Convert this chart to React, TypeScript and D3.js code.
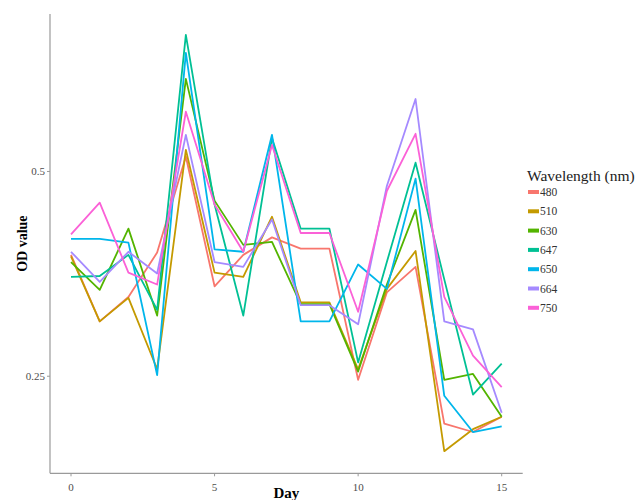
import React from "react";
import * as d3 from "d3";

// days on the x axis
const days = d3.range(0, 16);

// wavelength groups (legend order)
const wavelengths = ["480", "510", "630", "647", "650", "664", "750"];
const colours = ["#F8766D", "#C49A00", "#53B400", "#00C094", "#00B6EB", "#A58AFF", "#FB61D7"];

// OD values per wavelength, day 0..15
const od480 = [0.377, 0.301, 0.327, 0.38, 0.526, 0.339, 0.377, 0.4, 0.385, 0.385, 0.247, 0.332, 0.362, 0.213, 0.207, 0.218];
const od510 = [0.375, 0.301, 0.326, 0.256, 0.538, 0.355, 0.35, 0.429, 0.321, 0.321, 0.256, 0.336, 0.382, 0.194, 0.209, 0.218];
const od630 = [0.368, 0.335, 0.412, 0.307, 0.684, 0.453, 0.39, 0.394, 0.319, 0.319, 0.254, 0.341, 0.439, 0.247, 0.252, 0.218];
const od647 = [0.35, 0.351, 0.377, 0.313, 0.794, 0.447, 0.307, 0.56, 0.412, 0.412, 0.262, 0.368, 0.515, 0.347, 0.235, 0.261];
const od650 = [0.398, 0.398, 0.393, 0.251, 0.747, 0.384, 0.381, 0.566, 0.301, 0.301, 0.365, 0.336, 0.488, 0.234, 0.207, 0.211];
const od664 = [0.381, 0.344, 0.381, 0.354, 0.566, 0.368, 0.362, 0.425, 0.318, 0.318, 0.298, 0.476, 0.639, 0.301, 0.293, 0.221];
const od750 = [0.404, 0.45, 0.355, 0.341, 0.612, 0.447, 0.381, 0.547, 0.406, 0.406, 0.311, 0.468, 0.568, 0.327, 0.268, 0.241];

const seriesValues = [od480, od510, od630, od647, od650, od664, od750];

const xTicks = [0, 5, 10, 15];
const yTicks = [0.25, 0.5];

const App = () => {
    const layout = { width: 636, height: 500, left: 50, right: 522.7, top: 14, bottom: 473.3 };

    const xScale = d3.scaleLinear().domain([0, 15]).range([71, 501.7]);
    const yScale = d3.scaleLog().base(2).domain([0.18, 0.852]).range([layout.bottom, layout.top]);

    const lineGenerator = d3
        .line<number>()
        .x((d, i) => xScale(days[i]))
        .y(d => yScale(d));

    const serif = "'Liberation Serif', 'DejaVu Serif', serif";

    return (
        <svg
            width={layout.width}
            height={layout.height}
            style={{ position: "absolute", left: 0, top: 0 }}
            fontFamily={serif}
        >
            <rect width={layout.width} height={layout.height} fill="#ffffff" />

            {/* data lines */}
            {seriesValues.map((vals, i) => (
                <path
                    key={wavelengths[i]}
                    d={lineGenerator(vals) || ""}
                    fill="none"
                    stroke={colours[i]}
                    strokeWidth={1.8}
                    strokeLinejoin="round"
                />
            ))}

            {/* axes */}
            <line x1={layout.left} x2={layout.left} y1={layout.top} y2={layout.bottom} stroke="#9a9a9a" strokeWidth={1.2} />
            <line x1={layout.left} x2={layout.right} y1={layout.bottom} y2={layout.bottom} stroke="#9a9a9a" strokeWidth={1.2} />

            {yTicks.map(t => (
                <g key={t} transform={`translate(0,${yScale(t)})`}>
                    <line x1={layout.left - 3} x2={layout.left} stroke="#9a9a9a" strokeWidth={1} />
                    <text x={layout.left - 5} dy="0.35em" textAnchor="end" fontSize={11} fill="#4d4d4d">
                        {t}
                    </text>
                </g>
            ))}

            {xTicks.map(t => (
                <g key={t} transform={`translate(${xScale(t)},${layout.bottom})`}>
                    <line y1={0} y2={3} stroke="#9a9a9a" strokeWidth={1} />
                    <text y={14} dy="0.35em" textAnchor="middle" fontSize={11} fill="#4d4d4d">
                        {t}
                    </text>
                </g>
            ))}

            {/* axis titles */}
            <text
                transform={`translate(22,${(layout.top + layout.bottom) / 2}) rotate(-90)`}
                textAnchor="middle"
                fontSize={14}
                fontWeight="bold"
                dy="0.35em"
            >
                OD value
            </text>
            <text x={(layout.left + layout.right) / 2} y={498} textAnchor="middle" fontSize={15} fontWeight="bold">
                Day
            </text>

            {/* legend */}
            <text x={527} y={176} dy="0.35em" fontSize={15.5} fill="#222">
                Wavelength (nm)
            </text>
            {wavelengths.map((w, i) => (
                <g key={w} transform={`translate(528,${192 + i * 19.3})`}>
                    <rect x={0} y={-2} width={11} height={4} fill={colours[i]} />
                    <text x={12} dy="0.35em" fontSize={11.5} fill="#333">
                        {w}
                    </text>
                </g>
            ))}
        </svg>
    );
};

export default App;
